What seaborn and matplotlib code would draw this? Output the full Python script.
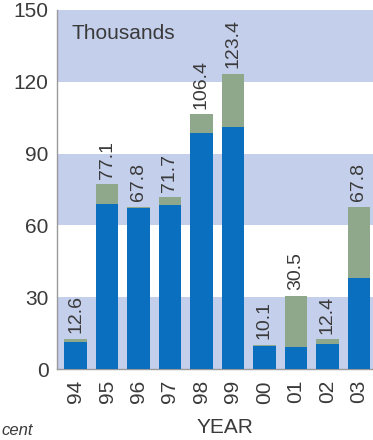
import matplotlib
matplotlib.use('Agg')
import matplotlib.pyplot as plt
import seaborn as sns
import pandas as pd

years = ['94', '95', '96', '97', '98', '99', '00', '01', '02', '03']
totals = [12.6, 77.1, 67.8, 71.7, 106.4, 123.4, 10.1, 30.5, 12.4, 67.8]
blue_part = [11.3, 69.0, 67.3, 68.7, 98.8, 101.3, 9.8, 9.2, 10.4, 38.2]
labels = ['12.6', '77.1', '67.8', '71.7', '106.4', '123.4', '10.1', '30.5', '12.4', '67.8']

df = pd.DataFrame({'year': years, 'total': totals, 'blue': blue_part})

sns.set_style('white')
plt.rcParams['font.family'] = ['Liberation Sans', 'DejaVu Sans']

txt = '#3a3a3a'
fig = plt.figure(figsize=(3.73, 4.4), dpi=100)
ax = fig.add_axes([57/373, 71/440, 1 - 57/373, (369 - 10)/440])

# shaded bands
for lo, hi in [(0, 30), (60, 90), (120, 150)]:
    ax.axhspan(lo, hi, color='#c4cfeb', zorder=0, lw=0)

sns.barplot(data=df, x='year', y='total', order=years, color='#8fa88c',
            width=0.72, saturation=1, linewidth=0, ax=ax, zorder=2)
sns.barplot(data=df, x='year', y='blue', order=years, color='#0a6fbf',
            width=0.72, saturation=1, linewidth=0, ax=ax, zorder=3)

for i, (t, lab) in enumerate(zip(totals, labels)):
    ax.annotate(lab, (i, t), xytext=(0, 4), textcoords='offset points',
                rotation=90, ha='center', va='bottom', fontsize=14, color=txt)

ax.set_ylim(0, 150)
ax.set_xlim(-0.59, 9.45)
ax.set_yticks([0, 30, 60, 90, 120, 150])
ax.tick_params(axis='y', length=0, pad=6, labelsize=15, labelcolor=txt)
ax.tick_params(axis='x', length=0, pad=8, labelsize=15, labelcolor=txt, rotation=90)
ax.set_xlabel('')
ax.set_ylabel('')

for s in ['top', 'right']:
    ax.spines[s].set_visible(False)
for s in ['left', 'bottom']:
    ax.spines[s].set_color('#9a9a9a')
    ax.spines[s].set_linewidth(1)

ax.text(0.045, 0.935, 'Thousands', transform=ax.transAxes, fontsize=15,
        color=txt, va='center', ha='left')
fig.text(225/373, 13/440, 'YEAR', fontsize=15, color=txt, ha='center', va='center')
fig.text(1/373, 2/440, 'cent', fontsize=12, color=txt, style='italic',
         ha='left', va='bottom')

fig.savefig('out.png', dpi=100)
